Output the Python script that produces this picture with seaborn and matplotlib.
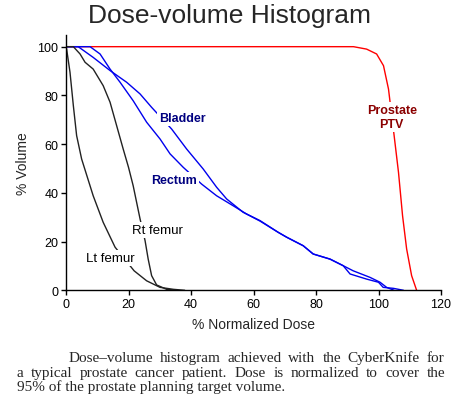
import numpy as np
import pandas as pd
import seaborn as sns
import matplotlib
matplotlib.use('Agg')
import matplotlib.pyplot as plt

# curve values (dose %, volume %)
ptv_dose = [0, 92, 96.2, 99.4, 101.6, 103.2, 105, 106.4, 107.7, 109, 110.6, 112.2]
ptv_vol = [100, 100, 99, 97, 92.2, 82.6, 63.5, 48.4, 30.6, 17, 6, 0]

bladder_dose = [0, 3.9, 8.7, 14.1, 19.4, 23.7, 27.4, 33.8, 38.6, 43.9, 48.2, 51.4, 56.7,
                62.1, 67.9, 70.6, 75.9, 79.1, 84.5, 88.7, 91.9, 97.3, 100.5, 102.6, 105]
bladder_vol = [100, 100, 95.6, 90.2, 85.4, 80.6, 75.1, 66.2, 58, 49.8, 42.3, 37.5, 32,
               28.6, 23.8, 21.8, 18.3, 14.9, 12.8, 10.1, 8.0, 5.3, 3.3, 1.2, 0]

rectum_dose = [0, 7.7, 10.9, 14.1, 17.3, 21.5, 25.8, 30.1, 33.3, 37.5, 43.4, 48.2, 53.5,
               57.8, 62.1, 67.9, 70.6, 75.9, 79.1, 84.5, 88.7, 90.9, 96.2, 100, 101.5,
               104.8, 108]
rectum_vol = [100, 100, 97, 90.8, 85.4, 77.8, 69, 62.1, 56, 50.5, 43.6, 38.8, 34.7,
              31.3, 28.4, 23.8, 21.8, 18.3, 14.9, 12.8, 10.1, 6.7, 4.6, 3.3, 1.2,
              0.8, 0]

rt_femur_dose = [0, 2.35, 4.5, 6.1, 8.7, 11.9, 14.1, 16.2, 18.3, 20, 21.5, 23.7, 25.3,
                 26.3, 27.4, 29, 32.2, 35.5]
rt_femur_vol = [100, 100, 97, 93.6, 90.8, 84, 77.2, 67.6, 58, 50.5, 42.9, 29.3, 20.4,
                12.8, 6, 2.2, 0.4, 0]

lt_femur_dose = [0, 0.2, 1.28, 2.35, 3.4, 5.0, 8.7, 11.9, 15.7, 21.8, 25.8, 30.1, 34.4, 38]
lt_femur_vol = [100, 99, 89.5, 75.8, 63.5, 53.9, 38.8, 27.9, 17.7, 8.0, 3.9, 1.2, 0.4, 0]

x_ticks = [0, 20, 40, 60, 80, 100, 120]
y_ticks = [0, 20, 40, 60, 80, 100]

caption_lines = [
    "Dose\u2013volume histogram achieved with the CyberKnife for",
    "a typical prostate cancer patient. Dose is normalized to cover the",
    "95% of the prostate planning target volume.",
]

sns.set_style('ticks')
plt.rcParams['font.family'] = ['Liberation Sans', 'DejaVu Sans']

W, H = 461, 406
fig = plt.figure(figsize=(W / 100, H / 100), dpi=100)
ax = fig.add_axes([66 / W, 1 - 291.3 / H, 375 / W, (291.3 - 35.5) / H])

curves = [
    (ptv_dose, ptv_vol, '#ff0000'),
    (bladder_dose, bladder_vol, '#0000ee'),
    (rectum_dose, rectum_vol, '#0000ee'),
    (rt_femur_dose, rt_femur_vol, '#222222'),
    (lt_femur_dose, lt_femur_vol, '#222222'),
]
for d, v, c in curves:
    df = pd.DataFrame({'dose': d, 'vol': v})
    sns.lineplot(data=df, x='dose', y='vol', sort=False, color=c, lw=1.0, ax=ax)

ax.set_xlim(0, 120)
ax.set_ylim(0, 105)
ax.set_xticks(x_ticks)
ax.set_yticks(y_ticks)
ax.tick_params(labelsize=9, length=3.5, width=1, colors='black', pad=2)
for s in ['top', 'right']:
    ax.spines[s].set_visible(False)
for s in ['left', 'bottom']:
    ax.spines[s].set_linewidth(1)
    ax.spines[s].set_color('black')
ax.set_xlabel('% Normalized Dose', fontsize=10, labelpad=5)
ax.set_ylabel('% Volume', fontsize=10, labelpad=5)

box = dict(fc='white', ec='none', pad=1.5)
ax.text(37.4, 70.6, 'Bladder', color='#000080', fontsize=9, fontweight='bold',
        ha='center', va='center', bbox=box)
ax.text(34.4, 45.4, 'Rectum', color='#000080', fontsize=9, fontweight='bold',
        ha='center', va='center', bbox=box)
ax.text(104.2, 71.1, 'Prostate\nPTV', color='#8b0000', fontsize=9, fontweight='bold',
        ha='center', va='center', linespacing=1.25, bbox=box)
ax.text(29.1, 24.8, 'Rt femur', color='black', fontsize=9.5,
        ha='center', va='center', bbox=box)
ax.text(14.1, 13.1, 'Lt femur', color='black', fontsize=9.5,
        ha='center', va='center', bbox=box)

fig.text(229 / W, 1 - 23 / H, 'Dose-volume Histogram', fontsize=19,
         ha='center', va='baseline')

# caption, justified word by word
renderer = fig.canvas.get_renderer()
cap_kw = dict(fontsize=11, family=['Liberation Serif', 'DejaVu Serif'], va='baseline')
cap_rows = [(68.3, 444.5, 361.7, True), (16.7, 445, 376.7, True), (16.7, None, 391, False)]
for line, (x0, x1, yb, justify) in zip(caption_lines, cap_rows):
    y = 1 - yb / H
    if not justify:
        fig.text(x0 / W, y, line, **cap_kw)
        continue
    words = line.split(' ')
    objs = [fig.text(0, y, w, **cap_kw) for w in words]
    widths = [o.get_window_extent(renderer).width for o in objs]
    gap = (x1 - x0 - sum(widths)) / (len(words) - 1)
    pos = x0
    for o, w in zip(objs, widths):
        o.set_x(pos / W)
        pos += w + gap

fig.savefig('out.png', dpi=100)
